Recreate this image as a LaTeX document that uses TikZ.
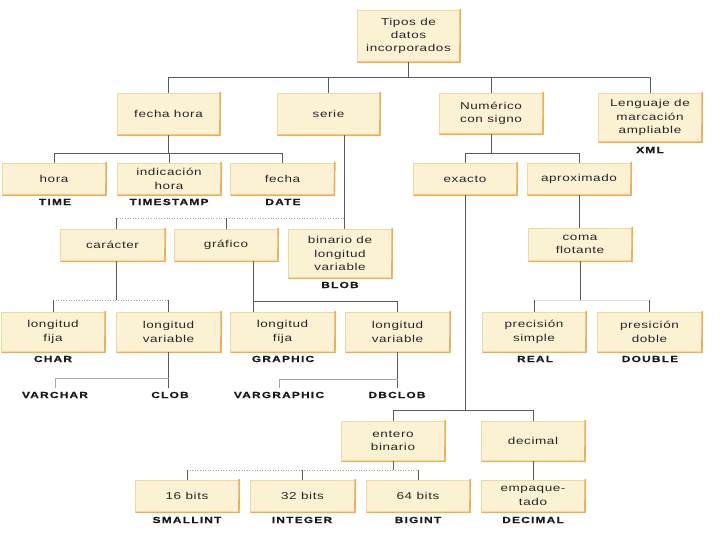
\documentclass[tikz,border=0pt]{standalone}
\usepackage{fontspec}
\setmainfont{Liberation Sans}[FakeStretch=1.35,LetterSpace=6]
\newfontfamily\labfont{Liberation Sans}[FakeStretch=1.35,LetterSpace=14,FakeBold=0.6]
\definecolor{boxfill}{HTML}{FBF2D4}
\definecolor{boxedge}{HTML}{F0D8A4}
\definecolor{boxshadow}{HTML}{E8B05C}
\definecolor{conncol}{HTML}{5A5A5A}
\definecolor{lightcol}{HTML}{A8A8A8}
\begin{document}
\begin{tikzpicture}[x=1pt,y=-1pt,
  bx/.style={draw=boxedge,fill=boxfill,line width=0.6pt,inner sep=1pt,
    font=\fontsize{10}{13.3}\selectfont,align=center,text=black!85},
  lab/.style={font=\labfont\fontsize{8.8}{10}\selectfont\bfseries,text=black!90},
  conn/.style={draw=conncol,line width=0.7pt},
  dotc/.style={draw=lightcol,line width=0.6pt,dotted},
  lightc/.style={draw=lightcol,line width=0.6pt},
  faint/.style={draw=black!12,line width=0.5pt}]
\useasboundingbox[fill=white] (0,0) rectangle (720,540);
% boxes
\node[bx,minimum width=103pt,minimum height=52pt] (root) at (408.5,36) {Tipos de\\datos\\incorporados};
\node[bx,minimum width=103pt,minimum height=42pt] (fh) at (168.5,114) {fecha hora};
\node[bx,minimum width=103pt,minimum height=42pt] (serie) at (328.5,114) {serie};
\node[bx,minimum width=104pt,minimum height=41pt] (num) at (491,113.5) {Numérico\\con signo};
\node[bx,minimum width=104pt,minimum height=49pt] (xmlb) at (650,117.5) {Lenguaje de\\marcación\\ampliable};
\node[bx,minimum width=104pt,minimum height=32pt] (hora) at (54,179) {hora};
\node[bx,minimum width=104pt,minimum height=32pt] (ind) at (169,179) {indicación\\hora};
\node[bx,minimum width=104pt,minimum height=32pt] (fecha) at (282.5,179) {fecha};
\node[bx,minimum width=104pt,minimum height=32pt] (exacto) at (465,179) {exacto};
\node[bx,minimum width=104pt,minimum height=32pt] (aprox) at (579,179) {aproximado};
\node[bx,minimum width=105pt,minimum height=32pt] (car) at (112.5,245) {carácter};
\node[bx,minimum width=104pt,minimum height=32pt] (graf) at (226,245) {gráfico};
\node[bx,minimum width=104pt,minimum height=49pt] (bin) at (340,253.5) {binario de\\longitud\\variable};
\node[bx,minimum width=104pt,minimum height=33pt] (coma) at (580,244.5) {coma\\flotante};
\node[bx,minimum width=104pt,minimum height=40pt] (lf1) at (53,332) {longitud\\fija};
\node[bx,minimum width=105pt,minimum height=40pt] (lv1) at (168.5,332) {longitud\\variable};
\node[bx,minimum width=105pt,minimum height=40pt] (lf2) at (282.5,332) {longitud\\fija};
\node[bx,minimum width=105pt,minimum height=40pt] (lv2) at (397.5,332) {longitud\\variable};
\node[bx,minimum width=104pt,minimum height=40pt] (ps) at (534,332) {precisión\\simple};
\node[bx,minimum width=105pt,minimum height=40pt] (pd) at (649.5,332) {presición\\doble};
\node[bx,minimum width=104pt,minimum height=40pt] (ent) at (393,441) {entero\\binario};
\node[bx,minimum width=104pt,minimum height=40pt] (dec) at (533,441) {decimal};
\node[bx,minimum width=104pt,minimum height=32pt] (b16) at (187,496) {16 bits};
\node[bx,minimum width=105pt,minimum height=32pt] (b32) at (302.5,496) {32 bits};
\node[bx,minimum width=104pt,minimum height=32pt] (b64) at (418,496) {64 bits};
\node[bx,minimum width=104pt,minimum height=32pt] (emp) at (533,496) {empaque-\\tado};
\foreach \n in {root,fh,serie,num,xmlb,hora,ind,fecha,exacto,aprox,car,graf,bin,coma,lf1,lv1,lf2,lv2,ps,pd,ent,dec,b16,b32,b64,emp}
  \draw[boxshadow,line width=1.6pt] ([yshift=0.8pt]\n.north east) -- ([xshift=-0.4pt]\n.south east) -- ([xshift=0.8pt]\n.south west);
% labels
\node[lab] (time) at (55,202) {TIME};
\node[lab] (tstamp) at (169,202) {TIMESTAMP};
\node[lab] (date) at (283,202) {DATE};
\node[lab] (xml) at (650,150) {XML};
\node[lab] (blob) at (340,285) {BLOB};
\node[lab] (char) at (53,359) {CHAR};
\node[lab] (graphic) at (283,359) {GRAPHIC};
\node[lab] (real) at (535,359) {REAL};
\node[lab] (double) at (650,359) {DOUBLE};
\node[lab] (varchar) at (55,395) {VARCHAR};
\node[lab] (clob) at (170,395) {CLOB};
\node[lab] (vargraphic) at (279,395) {VARGRAPHIC};
\node[lab] (dbclob) at (397,395) {DBCLOB};
\node[lab] (smallint) at (187,520) {SMALLINT};
\node[lab] (integer) at (302,520) {INTEGER};
\node[lab] (bigint) at (418,520) {BIGINT};
\node[lab] (decimal) at (533,520) {DECIMAL};
% level 1
\path (root.south) ++(0,15) coordinate (r1);
\draw[conn] (root.south) -- (r1);
\draw[conn] (fh.north) |- (r1);
\draw[conn] (xmlb.north) |- (r1);
\draw[conn] (serie.north) -- (serie.north |- r1);
\draw[conn] (num.north) -- (num.north |- r1);
% fecha hora
\path (fh.south) ++(0,18) coordinate (f1);
\draw[conn] (fh.south) -- (f1);
\draw[conn] (hora.north) |- (f1);
\draw[conn] (fecha.north) |- (f1);
\draw[conn] (ind.north) -- (ind.north |- f1);
% numerico
\path (num.south) ++(0,19) coordinate (n1);
\draw[conn] (num.south) -- (n1);
\draw[conn] (exacto.north) |- (n1);
\draw[conn] (aprox.north) |- (n1);
% serie
\coordinate (s0) at ([xshift=15.5pt]serie.south);
\draw[conn] (s0) -- (s0 |- bin.north);
\path (s0) ++(0,83) coordinate (s1);
\coordinate (c2) at ([xshift=3.5pt]car.north);
\draw[dotc] (s1) -- (s1 -| c2);
\draw[conn] (c2) -- (c2 |- s1);
\draw[conn] (graf.north) -- (graf.north |- s1);
% caracter
\coordinate (c3) at ([xshift=3.5pt]car.south);
\path (c3) ++(0,39) coordinate (c1);
\draw[conn] (c3) -- (c1);
\draw[dotc] (lf1.north |- c1) -- (lv1.north |- c1);
\draw[conn] (lf1.north) -- (lf1.north |- c1);
\draw[conn] (lv1.north) -- (lv1.north |- c1);
% grafico
\coordinate (g0) at ([xshift=27pt]graf.south);
\path (g0) ++(0,40) coordinate (g1);
\draw[conn] (g0) -- (g0 |- lf2.north);
\draw[conn] (g1) -| (lv2.north);
% longitud variable -> labels
\draw[conn] (lv1.south) -- (lv1.south |- clob.north);
\path (lv1.south) ++(0,26) coordinate (v1);
\draw[lightc] (v1) -| (varchar.north);
\draw[conn] (lv2.south) -- (lv2.south |- dbclob.north);
\path (lv2.south) ++(0,27) coordinate (v2);
\draw[lightc] (v2) -| (vargraphic.north);
% aproximado
\draw[conn] (aprox.south) -- (aprox.south |- coma.north);
\path (coma.south) ++(0,39) coordinate (k1);
\draw[conn] (coma.south) -- (k1);
\draw[faint] (ps.north |- k1) -- (pd.north |- k1);
\draw[conn] (ps.north) -- ++(0,-12);
\draw[conn] (pd.north) -- ++(0,-12);
% exacto
\path (exacto.south) ++(0,215) coordinate (e1);
\draw[conn] (exacto.south) -- (e1);
\draw[conn] (ent.north) |- (e1);
\draw[conn] (dec.north) |- (e1);
% entero binario
\path (ent.south) ++(0,9) coordinate (t1);
\draw[conn] (ent.south) -- (t1);
\draw[dotc] (b16.north |- t1) -- (b64.north |- t1);
\draw[conn] (b16.north) -- (b16.north |- t1);
\draw[conn] (b32.north) -- (b32.north |- t1);
\draw[conn] (b64.north) -- (b64.north |- t1);
% decimal
\draw[conn] (dec.south) -- (emp.north);
\end{tikzpicture}
\end{document}
